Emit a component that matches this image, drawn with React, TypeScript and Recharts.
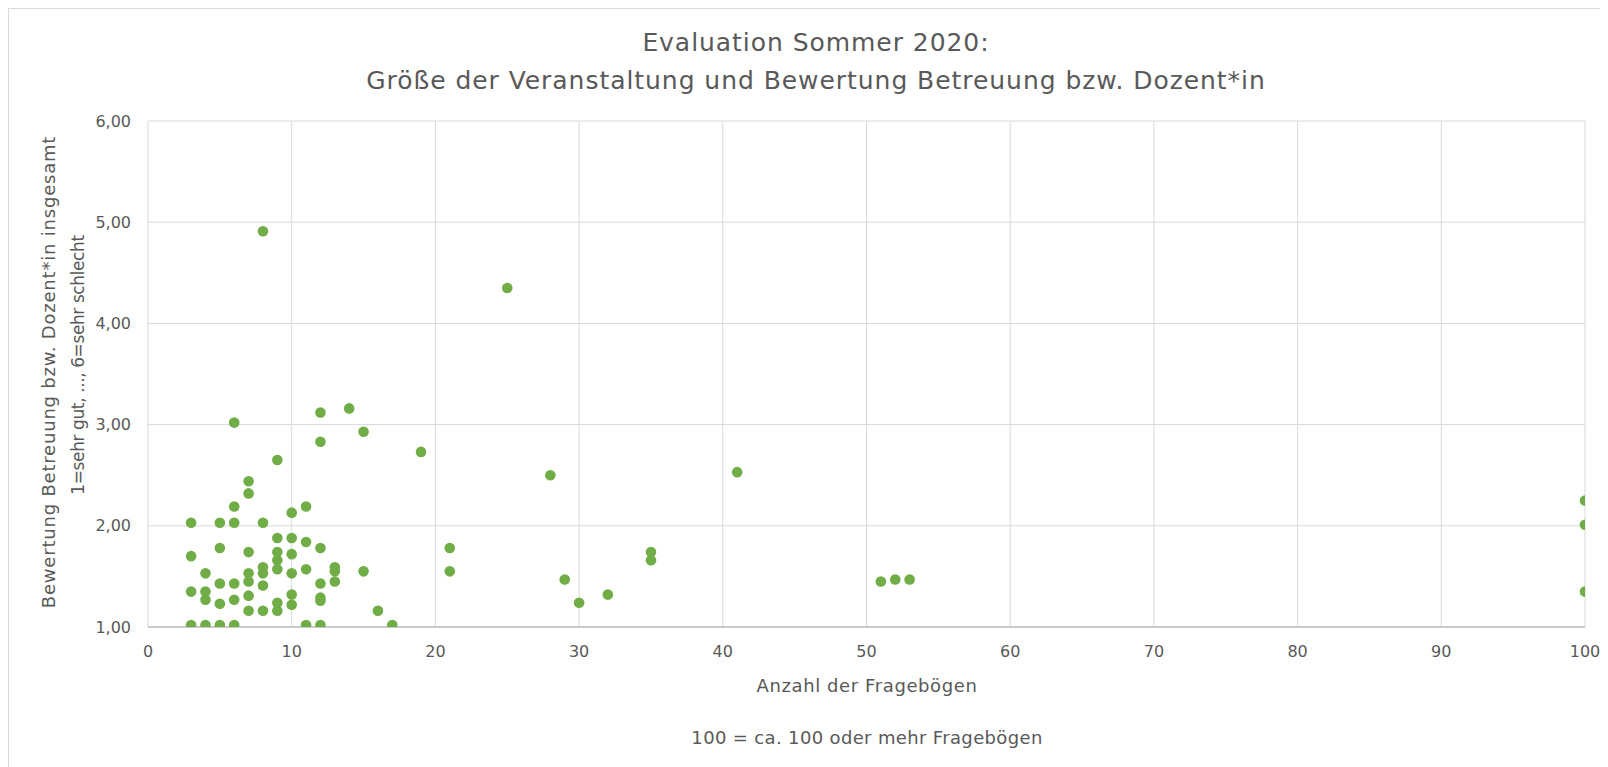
import React from 'react';
import { ScatterChart, Scatter, XAxis, YAxis, CartesianGrid } from 'recharts';

// Anzahl der Fragebögen (x) and Bewertung (y)
const questionnaires = [
  3, 3, 3, 3,
  4, 4, 4, 4,
  5, 5, 5, 5, 5,
  6, 6, 6, 6, 6, 6,
  7, 7, 7, 7, 7, 7, 7,
  8, 8, 8, 8, 8, 8,
  9, 9, 9, 9, 9, 9, 9,
  10, 10, 10, 10, 10, 10,
  11, 11, 11, 11,
  12, 12, 12, 12, 12, 12, 12,
  13, 13, 13,
  14, 15, 15, 16, 17, 19, 21, 21,
  25, 28, 29, 30, 32, 35, 35, 41,
  51, 52, 53,
  100, 100, 100,
];
const ratings = [
  2.03, 1.7, 1.35, 1.02,
  1.53, 1.35, 1.27, 1.02,
  2.03, 1.78, 1.43, 1.23, 1.02,
  3.02, 2.19, 2.03, 1.43, 1.27, 1.02,
  2.44, 2.32, 1.74, 1.53, 1.45, 1.31, 1.16,
  4.91, 2.03, 1.59, 1.53, 1.41, 1.16,
  2.65, 1.88, 1.74, 1.66, 1.57, 1.24, 1.16,
  2.13, 1.88, 1.72, 1.53, 1.32, 1.22,
  2.19, 1.84, 1.57, 1.02,
  3.12, 2.83, 1.78, 1.43, 1.29, 1.26, 1.02,
  1.59, 1.55, 1.45,
  3.16, 2.93, 1.55, 1.16, 1.02, 2.73, 1.78, 1.55,
  4.35, 2.5, 1.47, 1.24, 1.32, 1.74, 1.66, 2.53,
  1.45, 1.47, 1.47,
  2.25, 2.01, 1.35,
];

const xTicks = [0, 10, 20, 30, 40, 50, 60, 70, 80, 90, 100];
const yTicks = [1, 2, 3, 4, 5, 6];
const titleLines = ['Evaluation Sommer 2020:', 'Größe der Veranstaltung und Bewertung Betreuung bzw. Dozent*in'];
const yTitleLines = ['Bewertung Betreuung bzw. Dozent*in insgesamt', '1=sehr gut, ..., 6=sehr schlecht'];
const xTitle = 'Anzahl der Fragebögen';
const footnote = '100 = ca. 100 oder mehr Fragebögen';

const data = questionnaires.map((x, i) => ({ x, y: ratings[i] }));

const FONT = '"DejaVu Sans", sans-serif';
const TEXT = '#595959';
const W = 1599;
const H = 758;

const Dot = (props: any) => (
  <circle cx={props.cx} cy={props.cy} r={5.3} fill="#70AD47" />
);

export default function App() {
  return (
    <div
      style={{
        position: 'relative',
        width: W,
        height: H,
        borderTop: '1px solid #d9d9d9',
        borderLeft: '1px solid #d9d9d9',
        background: '#fff',
        overflow: 'hidden',
      }}
    >
      <ScatterChart
        width={W}
        height={H}
        margin={{ top: 112, right: 23, bottom: 100, left: 0 }}
      >
        <CartesianGrid stroke="#d9d9d9" strokeWidth={1} />
        <XAxis
          type="number"
          dataKey="x"
          domain={[0, 100]}
          ticks={xTicks}
          height={40}
          tickLine={false}
          tickSize={6}
          tickMargin={13}
          axisLine={{ stroke: '#bfbfbf', strokeWidth: 1.5 }}
          tick={{ fill: TEXT, fontSize: 16, fontFamily: FONT }}
          allowDataOverflow
        />
        <YAxis
          type="number"
          dataKey="y"
          domain={[1, 6]}
          ticks={yTicks}
          width={139}
          tickLine={false}
          axisLine={false}
          tickSize={6}
          tickMargin={11}
          tickFormatter={(v: number) => v.toFixed(2).replace('.', ',')}
          tick={{ fill: TEXT, fontSize: 16, fontFamily: FONT }}
          allowDataOverflow
        />
        <Scatter data={data} shape={Dot} isAnimationActive={false} />
      </ScatterChart>
      <svg
        width={W}
        height={H}
        style={{ position: 'absolute', left: 0, top: 0, pointerEvents: 'none' }}
      >
        <g fontFamily={FONT} fill={TEXT}>
          <text x={807} y={33} fontSize={25} letterSpacing={0.95} textAnchor="middle" dominantBaseline="central">
            {titleLines[0]}
          </text>
          <text x={807} y={71} fontSize={25} letterSpacing={0.95} textAnchor="middle" dominantBaseline="central">
            {titleLines[1]}
          </text>
          <text
            x={39}
            y={363}
            fontSize={18}
            letterSpacing={0.8}
            textAnchor="middle"
            dominantBaseline="central"
            transform="rotate(-90 39 363)"
          >
            {yTitleLines[0]}
          </text>
          <text
            x={69}
            y={356}
            fontSize={17}
            letterSpacing={-0.4}
            textAnchor="middle"
            dominantBaseline="central"
            transform="rotate(-90 69 356)"
          >
            {yTitleLines[1]}
          </text>
          <text x={858} y={676} fontSize={18} letterSpacing={0.6} textAnchor="middle" dominantBaseline="central">
            {xTitle}
          </text>
          <text x={858} y={728} fontSize={18} letterSpacing={0.35} textAnchor="middle" dominantBaseline="central">
            {footnote}
          </text>
        </g>
      </svg>
    </div>
  );
}
